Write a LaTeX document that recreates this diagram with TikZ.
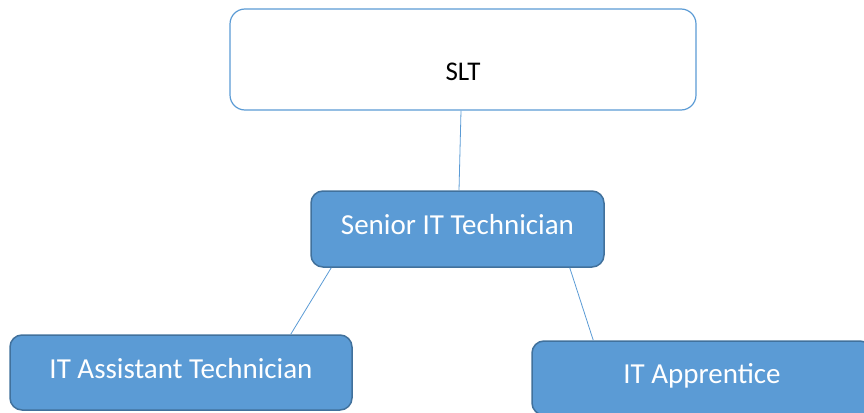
\documentclass[tikz,border=0pt]{standalone}
\usepackage{fontspec}
\setmainfont{Carlito}
\definecolor{roleblue}{HTML}{5B9BD5}
\definecolor{roleedge}{HTML}{41719C}
\tikzset{
  toprole/.style={rectangle, rounded corners=15pt, draw=roleblue, line width=1.2pt, fill=white,
    inner sep=0pt, text height=43pt, text depth=0pt, font=\fontsize{27}{32}\selectfont},
  rolebox/.style={rectangle, rounded corners=12pt, draw=roleedge, line width=1.5pt, fill=roleblue,
    text=white, inner sep=0pt, text height=19pt, text depth=8pt, font=\fontsize{29}{34}\selectfont},
  link/.style={draw=roleblue, line width=0.8pt}
}
\begin{document}
\begin{tikzpicture}[x=1pt,y=-1pt]
\clip (0,0) rectangle (864,412);
\node[toprole, minimum width=466pt, minimum height=101pt] (slt) at (463,59.5) {SLT};
\node[rolebox, minimum width=293pt, minimum height=76pt] (senior) at (457.5,229) {Senior IT Technician};
\node[rolebox, minimum width=342pt, minimum height=75pt] (assist) at (181,372.5) {IT Assistant Technician};
\node[rolebox, minimum width=340pt, minimum height=74pt] (appr) at (702,378) {IT Apprentice};
% lines between the roles
\draw[link] ([xshift=-2pt]slt.south) -- ([xshift=1.5pt]senior.north);
\draw[link] ([xshift=21pt]senior.south west) -- ([xshift=-62pt]assist.north east);
\draw[link] ([xshift=-35pt]senior.south east) -- ([xshift=62pt]appr.north west);
\end{tikzpicture}
\end{document}
